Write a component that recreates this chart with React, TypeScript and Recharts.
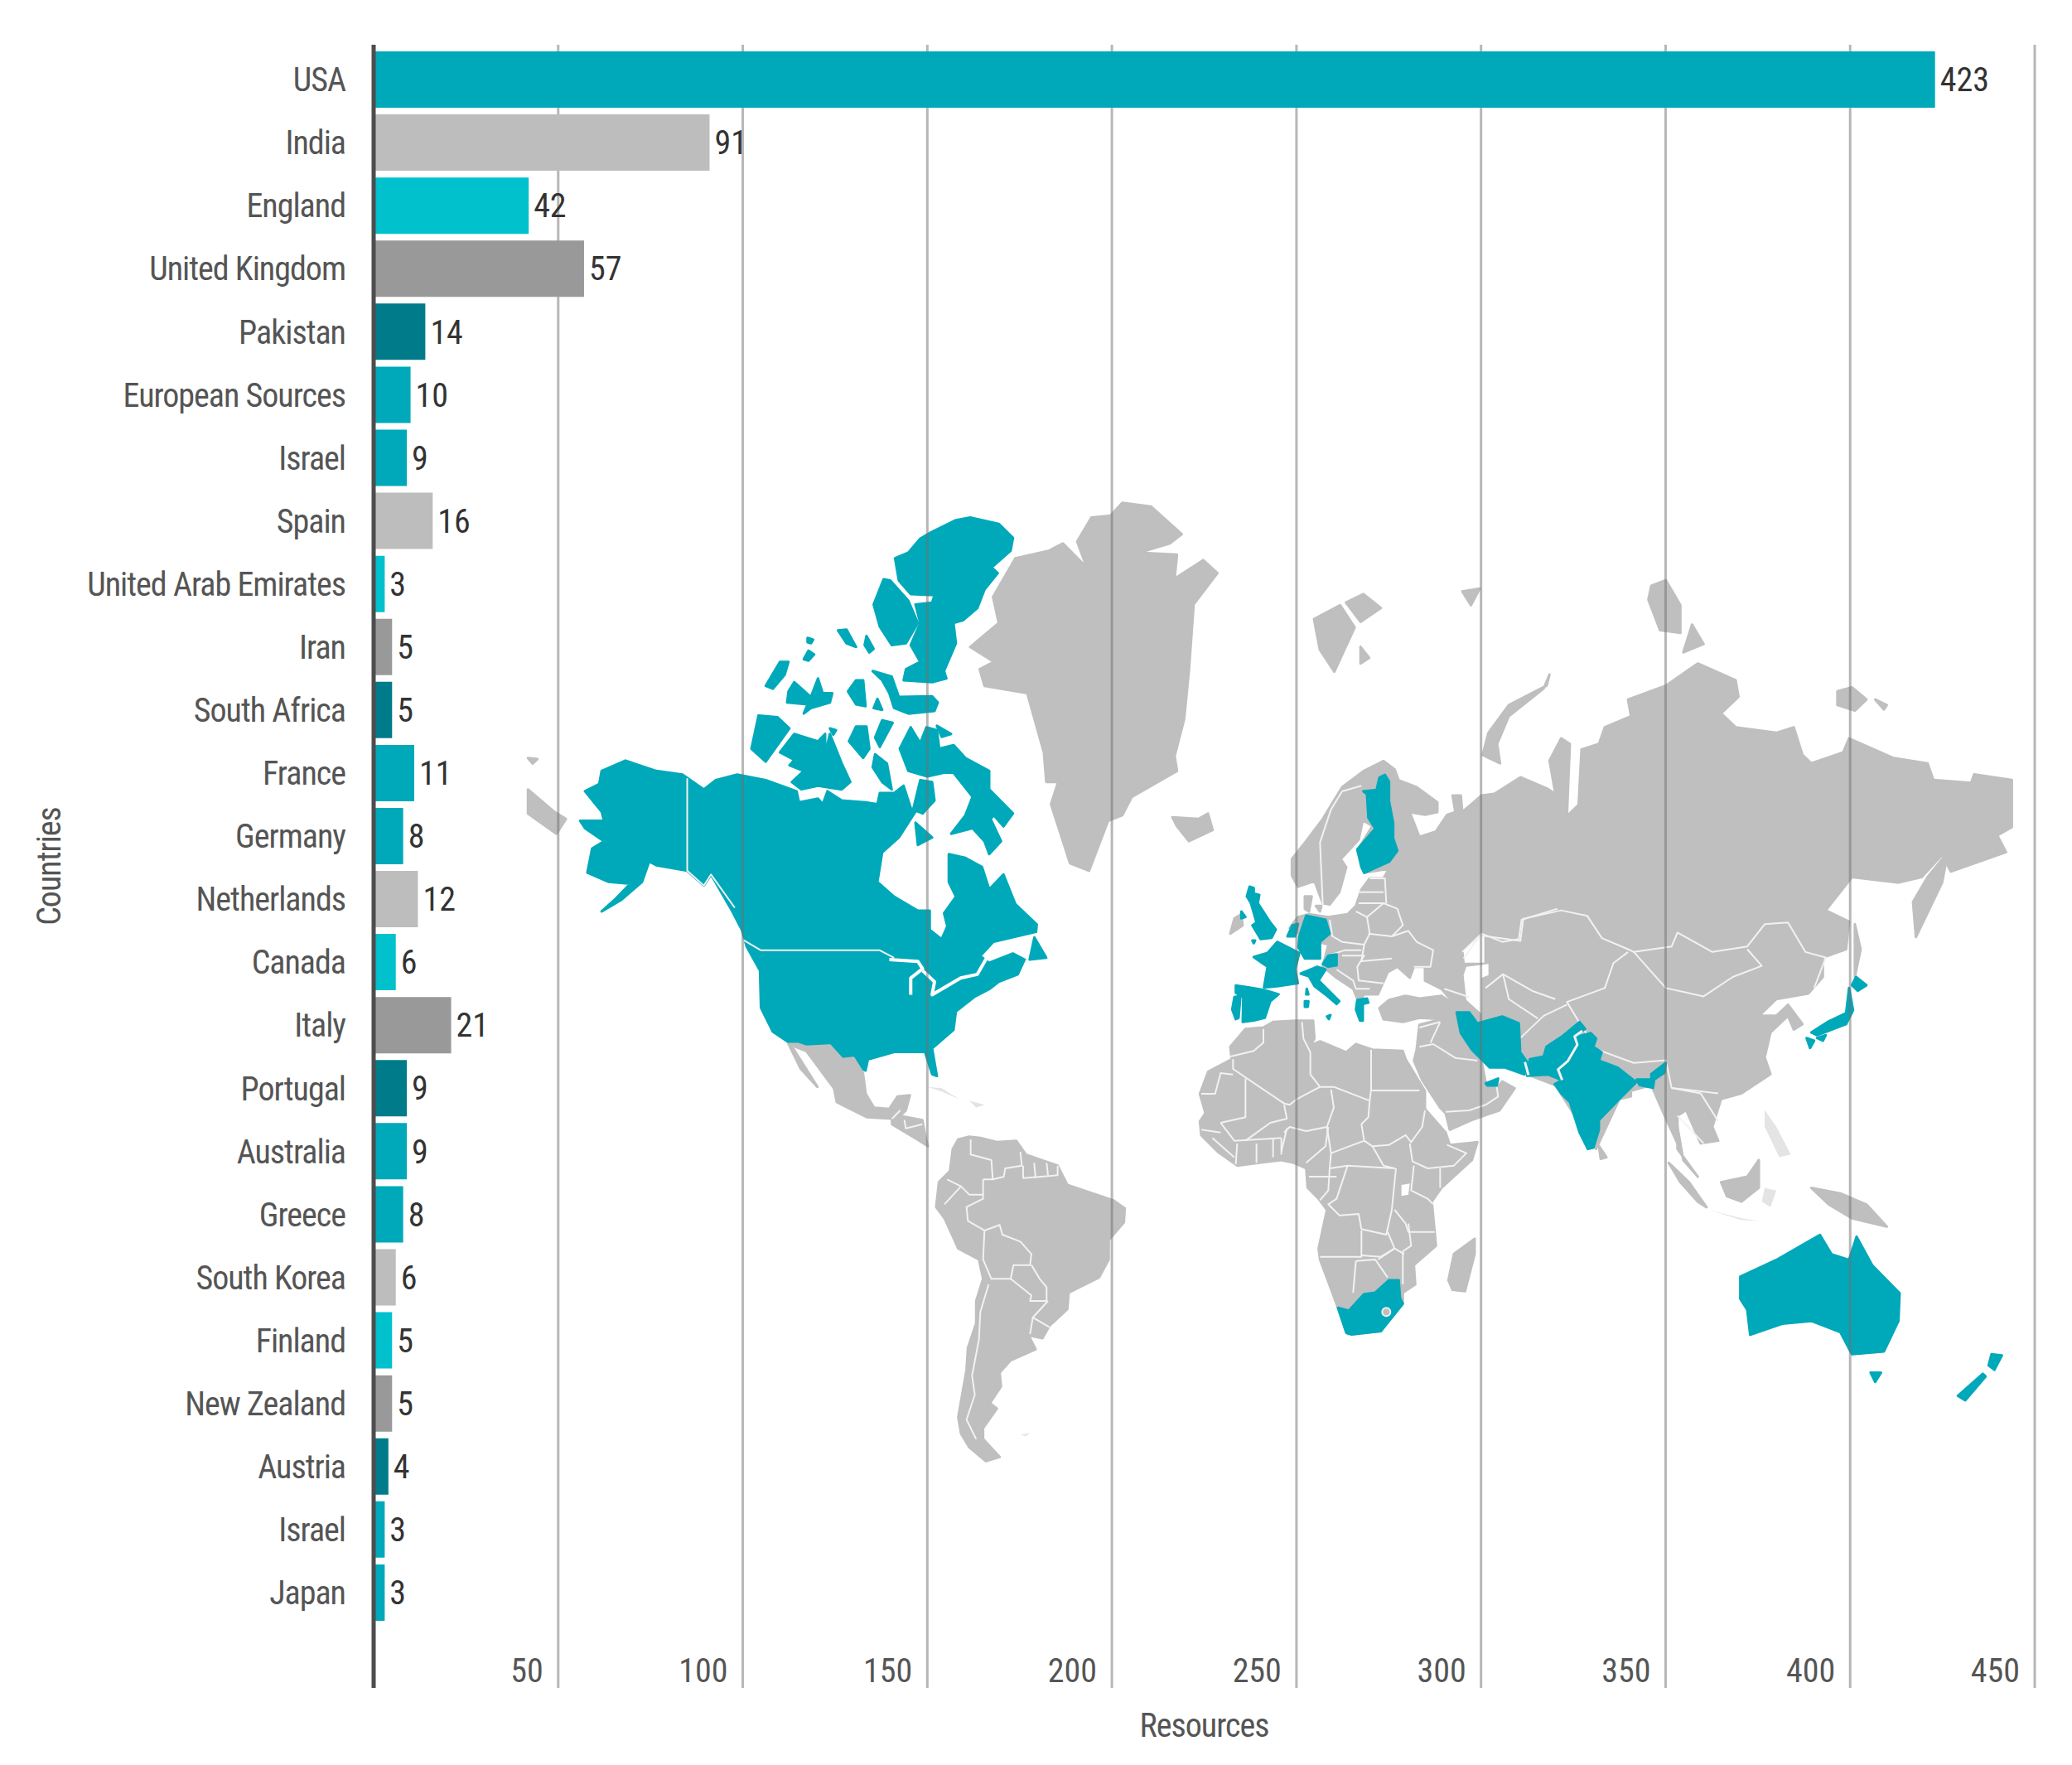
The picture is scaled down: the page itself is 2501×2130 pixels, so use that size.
import React from 'react';
import { BarChart, Bar, Cell, CartesianGrid, LabelList, XAxis, YAxis } from 'recharts';

const countries = ['USA', 'India', 'England', 'United Kingdom', 'Pakistan', 'European Sources', 'Israel', 'Spain', 'United Arab Emirates', 'Iran', 'South Africa', 'France', 'Germany', 'Netherlands', 'Canada', 'Italy', 'Portugal', 'Australia', 'Greece', 'South Korea', 'Finland', 'New Zealand', 'Austria', 'Israel', 'Japan'];
const resources = [423, 91, 42, 57, 14, 10, 9, 16, 3, 5, 5, 11, 8, 12, 6, 21, 9, 9, 8, 6, 5, 5, 4, 3, 3];
const barColors = ['#00a9b9', '#bdbdbd', '#00c1cc', '#999999', '#007b8a', '#00a9b9'];
const xTicks = [50, 100, 150, 200, 250, 300, 350, 400, 450];

const FONT = '"Liberation Sans Narrow", "Roboto Condensed", "Liberation Sans", sans-serif';
const GRAY = '#bfbfbf';
const TEAL = '#00a9b9';
const FAINT = '#e4e4e4';

// map outlines, traced by eye, each group in its own local coordinates
const northAmericaGray = [
  'M1215 55 L1255 50 L1280 15 L1340 25 L1405 100 L1380 125 L1315 150 L1395 155 L1390 220 L1450 170 L1480 205 L1430 290 L1420 470 L1410 600 L1390 700 L1395 740 L1300 810 L1280 860 L1250 875 L1210 1010 L1170 990 L1130 830 L1145 770 L1120 770 L1115 690 L1080 530 L990 510 L980 465 L1010 445 L960 405 L1020 340 L1008 270 L1055 165 L1125 145 L1155 125 L1205 190 L1185 120 Z',
  'M1385 865 L1440 870 L1460 855 L1470 900 L1420 930 L1395 890 Z',
  'M30 790 L85 850 L110 870 L90 910 L30 855 Z',
  'M30 705 L50 708 L40 720 Z',
];
const northAmericaTeal = [
  'M878 95 L930 62 L960 55 L1020 72 L1050 110 L1045 145 L1005 190 L1018 205 L990 250 L975 300 L945 333 L925 340 L930 395 L905 470 L910 490 L880 500 L820 495 L825 465 L855 445 L835 400 L855 340 L845 290 L880 285 L885 265 L835 262 L810 225 L802 165 L830 150 L855 112 Z',
  'M778 222 L792 225 L830 280 L850 340 L825 395 L795 400 L770 350 L757 290 Z',
  'M682 360 L700 358 L720 405 L700 395 Z',
  'M742 375 L757 410 L748 420 L738 400 Z',
  'M618 380 L630 385 L625 395 L618 392 Z',
  'M620 415 L632 425 L620 442 L610 438 Z',
  'M560 445 L578 445 L570 480 L545 518 L530 510 Z',
  'M590 500 L625 540 L640 490 L650 530 L670 530 L665 555 L625 570 L610 585 L618 560 L575 555 L578 525 Z',
  'M720 495 L735 495 L740 565 L720 560 L703 525 Z',
  'M765 545 L775 575 L757 570 Z',
  'M755 470 L795 485 L810 540 L880 538 L892 555 L885 578 L830 585 L800 570 L790 530 L775 495 Z',
  'M515 590 L555 595 L580 625 L530 715 L500 680 Z',
  'M590 640 L640 660 L655 640 L655 695 L665 640 L690 720 L708 770 L690 790 L640 780 L605 790 L585 770 L610 740 L580 725 L590 710 L560 690 Z',
  'M665 625 L678 630 L672 642 Z',
  'M720 620 L742 620 L748 680 L735 705 L705 660 Z',
  'M775 603 L797 610 L770 675 L760 650 Z',
  'M835 622 L855 665 L868 622 L890 630 L895 680 L925 670 L950 705 L1000 740 L1000 790 L1050 855 L1030 890 L1010 860 L1003 870 L1025 930 L1000 965 L990 930 L965 895 L920 910 L950 860 L965 810 L925 745 L905 745 L870 755 L830 740 L812 680 Z',
  'M890 618 L920 640 L900 648 Z',
  'M760 695 L785 720 L795 790 L775 770 L755 730 Z',
  'M855 765 L880 770 L885 820 L860 855 L840 845 Z',
  'M845 880 L880 920 L850 940 Z',
  'M150 795 L180 775 L185 740 L235 712 L300 740 L355 750 L400 790 L425 765 L470 750 L530 765 L595 795 L600 825 L640 815 L650 830 L660 795 L690 820 L740 825 L765 830 L770 800 L800 800 L820 780 L835 840 L845 850 L810 920 L775 960 L765 1040 L800 1080 L850 1118 L875 1118 L875 1170 L900 1195 L912 1160 L905 1125 L930 1080 L915 1040 L915 965 L950 975 L985 1000 L1000 1060 L1030 1020 L1055 1100 L1100 1155 L1098 1185 L1060 1290 L1020 1310 L1000 1330 L970 1350 L930 1390 L925 1440 L880 1490 L890 1565 L880 1560 L865 1500 L800 1500 L745 1520 L740 1550 L700 1530 L660 1480 L620 1480 L580 1475 L545 1445 L520 1380 L518 1280 L490 1215 L480 1170 L460 1120 L415 1020 L400 1050 L365 1010 L300 995 L285 985 L270 1040 L225 1090 L185 1120 L215 1085 L245 1045 L200 1040 L155 1015 L165 950 L190 930 L150 895 L140 875 L190 875 L185 850 Z',
];
const northAmericaWater = ['M1110 1175 L1010 1205 L985 1240 L1000 1255 L1050 1230 L1080 1250 L1065 1290 L1110 1285 Z'];
const greatLakes = [
  'M790 1250 L850 1255 L860 1275 L835 1300 L835 1345',
  'M860 1280 L885 1310 L880 1345 L940 1300 L975 1290 L995 1245',
];
const newfoundland = ['M1095 1190 L1120 1245 L1085 1250 Z'];
const northAmericaBorders = ['M365 760 L365 1010 L400 1050 L415 1020 L465 1110', 'M480 1195 L520 1225 L770 1225 L800 1245'];

const southAmericaGray = [
  'M65 30 L100 30 L130 40 L215 35 L260 85 L300 80 L335 135 L345 210 L375 260 L430 265 L460 220 L505 215 L490 270 L470 290 L550 305 L560 360 L570 400 L540 380 L440 320 L440 300 L350 295 L240 240 L230 190 L130 55 Z',
  'M68 35 L85 50 L170 185 L110 120 Z',
  'M680 375 L720 365 L760 370 L820 385 L890 380 L925 430 L1040 470 L1075 540 L1240 595 L1283 625 L1280 675 L1225 740 L1225 810 L1190 875 L1080 930 L1075 990 L1010 1050 L985 1095 L935 1085 L960 1135 L870 1175 L830 1220 L835 1270 L795 1330 L820 1350 L770 1420 L770 1460 L830 1525 L780 1540 L720 1490 L690 1440 L680 1380 L710 1210 L715 1130 L745 1040 L745 960 L770 880 L755 810 L680 770 L630 660 L600 620 L610 530 L650 490 L660 410 Z',
];
const caribbean = [
  'M570 185 L620 190 L685 230 L620 202 Z',
  'M720 235 L775 250 L745 260 Z',
  'M905 1445 L940 1438 L925 1450 Z',
];
const southAmericaBorders = [
  'M790 900 L760 1000 L755 1100 L730 1230 L740 1300 L710 1390 L745 1460',
  'M775 705 L770 810 L800 880 L870 880 L880 830 L940 830 L945 790 L905 745 L840 720 L830 685 L775 705',
  'M775 705 L715 670 L710 620 L770 590 L770 520',
  'M640 520 L690 545 L630 610',
  'M690 545 L720 575 L770 575',
  'M725 375 L725 430 L800 450 L805 520 L770 520',
  'M805 520 L845 510 L850 480 L910 470 L905 420',
  'M915 470 L915 515 L1040 505 L1040 470',
  'M960 515 L955 460',
  'M1005 505 L1000 460',
  'M870 880 L945 940 L940 960 L1000 960 L1000 910 L975 880 L945 830',
  'M1005 960 L950 1020 L940 1080',
  'M950 1020 L1010 1055',
  'M440 300 L470 270',
  'M485 305 L490 335 L550 320',
];

const europeGray = [
  'M238 410 L290 345 L350 265 L420 150 L500 90 L570 55 L610 85 L625 125 L690 150 L765 205 L765 240 L720 250 L665 240 L700 330 L760 310 L800 250 L830 240 L820 180 L850 180 L855 240 L925 180 L1000 170 L1065 120 L1160 180 L1200 190 L1200 590 L1060 640 L1060 700 L1000 710 L925 680 L855 740 L860 790 L950 790 L950 830 L925 830 L925 980 L860 950 L830 940 L780 880 L720 850 L720 800 L680 800 L665 840 L620 800 L585 820 L550 900 L500 900 L480 930 L460 880 L400 840 L350 800 L370 720 L300 700 L230 660 L260 620 L300 610 L370 620 L440 610 L470 580 L490 520 L520 480 L570 480 L590 445 L500 460 L475 380 L530 290 L495 270 L480 340 L415 410 L435 440 L410 530 L375 575 L350 570 L320 490 L260 510 L238 470 Z',
  'M285 545 L310 545 L300 600 L285 590 Z',
  'M325 580 L345 580 L340 600 Z',
  'M555 950 L590 920 L650 905 L700 915 L780 905 L830 940 L860 960 L830 970 L790 990 L700 985 L640 1000 L570 990 Z',
  'M30 625 L55 610 L60 650 L15 680 Z',
];
const europeTeal = [
  'M575 105 L590 130 L590 200 L605 280 L605 335 L620 380 L590 420 L500 460 L490 440 L475 375 L540 300 L515 260 L510 175 L497 165 L545 160 L555 115 Z',
  'M85 510 L100 515 L100 535 L120 540 L115 570 L160 640 L180 665 L165 695 L125 700 L95 650 L110 640 L90 570 L75 545 Z',
  'M55 600 L70 620 L55 625 Z',
  'M95 705 L105 705 L100 715 Z',
  'M240 650 L260 645 L250 690 L222 690 Z',
  'M290 615 L360 630 L375 680 L340 710 L340 770 L285 770 L262 730 L265 690 Z',
  'M185 710 L265 750 L250 810 L260 860 L190 870 L137 875 L150 800 L100 765 L150 750 Z',
  'M35 868 L85 875 L140 885 L190 900 L160 925 L140 985 L100 995 L60 1000 L62 910 L35 895 Z',
  'M30 910 L52 905 L45 985 L35 990 L22 955 Z',
  'M270 825 L330 800 L360 810 L335 850 L410 925 L400 935 L365 905 L320 870 L300 835 Z',
  'M285 925 L298 925 L296 945 L285 945 Z',
  'M292 880 L298 900 L290 900 Z',
  'M365 980 L378 975 L372 990 Z',
  'M350 790 L370 760 L400 755 L400 795 L370 800 Z',
  'M475 920 L510 915 L515 930 L495 935 L495 995 L485 995 L470 955 Z',
];
const europeBorders = [
  'M350 575 L340 350 L380 230 L420 165 L490 145',
  'M375 630 L385 690 L420 710 L500 720 L520 680 L510 620 L470 600',
  'M515 680 L600 690 L660 670 L690 710 L750 740 L740 800 L680 800',
  'M500 720 L490 780 L600 770',
  'M510 620 L570 570 L620 590 L640 650 L600 690',
  'M480 570 L570 570',
  'M520 480 L575 480 L580 570',
  'M480 530 L570 530',
  'M420 760 L500 760 L475 800 L480 850 L570 860',
  'M370 760 L430 740 L490 740',
  'M400 810 L460 850 L470 880 L520 880',
  'M790 880 L880 910',
  'M860 770 L925 680 L1000 710 L1060 700 L1070 630 L1200 590',
];
const caspian = 'M870 800 L950 790 L950 830 L925 840 L925 970 L870 920 L860 830 Z';

const asiaGray = [
  'M620 430 L665 450 L680 460 L670 400 L690 360 L705 370 L700 500 L720 480 L725 380 L755 370 L765 340 L810 320 L805 290 L870 265 L925 225 L990 255 L995 285 L965 315 L990 340 L1060 350 L1090 340 L1105 390 L1120 405 L1175 385 L1185 360 L1260 395 L1320 405 L1330 435 L1395 440 L1400 425 L1465 435 L1465 520 L1440 535 L1455 565 L1360 600 L1345 570 L1310 610 L1270 620 L1190 610 L1145 670 L1185 690 L1180 740 L1140 755 L1140 790 L1115 820 L1060 830 L1030 860 L1060 860 L1080 840 L1105 875 L1090 885 L1080 860 L1050 890 L1040 935 L1050 965 L1000 1000 L965 1010 L950 1060 L960 1085 L930 1090 L905 1030 L890 1040 L890 1090 L870 1045 L845 985 L810 995 L810 1005 L790 1010 L750 1100 L680 985 L630 965 L620 900 L505 850 L560 770 L560 470 Z',
  'M670 245 L665 265 L600 300 L565 350 L555 390 L585 405 L580 370 L600 320 L660 270 Z',
  'M265 145 L310 120 L335 160 L300 240 L275 200 Z',
  'M320 115 L350 100 L380 125 L345 150 Z',
  'M345 195 L360 215 L345 225 Z',
  'M520 95 L550 90 L535 120 Z',
  'M845 85 L870 75 L895 120 L895 170 L860 165 L840 110 Z',
  'M915 155 L935 190 L900 205 Z',
  'M1165 275 L1190 268 L1215 290 L1195 310 L1165 300 Z',
  'M1230 290 L1250 300 L1245 308 Z',
  'M1195 695 L1205 740 L1195 790 L1195 720 Z',
  'M1355 565 L1345 620 L1300 718 L1295 655 L1320 610 Z',
  'M755 1095 L768 1115 L758 1118 Z',
  'M875 1125 L910 1160 L940 1205 L925 1195 L895 1160 Z',
  'M965 1160 L1010 1150 L1030 1120 L1030 1170 L1000 1195 L975 1185 Z',
  'M1120 1170 L1170 1180 L1215 1200 L1250 1240 L1190 1225 L1150 1200 Z',
  'M890 1060 L900 1120 L925 1150 L890 1100 Z',
];
const asiaFaint = [
  'M945 1210 L1000 1225 L1030 1230 L1000 1228 Z',
  'M1040 1170 L1060 1175 L1050 1205 L1035 1195 Z',
  'M1040 1030 L1060 1060 L1085 1110 L1065 1115 L1040 1060 Z',
];
const asiaTeal = [
  'M845 965 L870 945 L868 962 L850 975 L848 990 L825 985 L820 975 L845 975 Z',
  'M1197 790 L1215 805 L1200 815 L1190 805 Z',
  'M1185 810 L1192 850 L1180 875 L1130 895 L1120 890 L1150 870 L1180 855 Z',
  'M1112 900 L1125 905 L1118 918 Z',
  'M1130 900 L1145 895 L1140 905 Z',
  'M998 1330 L1060 1300 L1110 1270 L1135 1255 L1155 1290 L1185 1300 L1198 1258 L1225 1310 L1272 1360 L1270 1410 L1245 1465 L1190 1470 L1170 1430 L1120 1410 L1070 1415 L1015 1435 L1010 1390 L998 1370 Z',
  'M1222 1503 L1240 1503 L1230 1520 Z',
  'M1430 1470 L1448 1472 L1435 1498 L1425 1490 Z',
  'M1415 1505 L1420 1510 L1385 1553 L1372 1545 Z',
];
const asiaBorders = [
  'M520 745 L550 715 L620 725 L625 685 L690 670 L735 680 L760 720 L805 740 L815 745 L880 735 L890 710 L950 745 L1010 735 L1040 695 L1080 692 L1110 745 L1145 755 L1125 810',
  'M815 745 L870 810 L935 825 L985 790 L1035 770 L1010 740',
  'M805 745 L780 765 L765 810 L700 835 L720 870 L750 920 L815 945 L870 940 L880 990 L960 1000',
  'M560 810 L590 785 L640 815 L680 830',
  'M590 785 L600 830 L650 865',
  'M620 900 L660 860 L700 840',
  'M880 990 L930 1000 L960 1050',
  'M890 1040 L935 1090',
];

const africaGray = [
  'M165 130 L220 65 L285 60 L320 40 L400 35 L465 35 L470 100 L455 125 L490 110 L585 150 L620 120 L680 140 L790 145 L800 175 L870 290 L870 355 L945 440 L960 485 L1060 475 L1040 540 L930 640 L895 690 L910 850 L830 920 L835 990 L790 1020 L790 1060 L710 1160 L590 1170 L555 1075 L490 900 L485 860 L515 720 L485 680 L445 640 L440 570 L395 550 L350 540 L190 560 L120 510 L60 450 L55 400 L75 370 L55 300 L85 220 L170 175 Z',
  'M850 50 L930 30 L980 10 L1000 80 L1060 170 L1075 180 L1090 260 L1130 280 L1150 255 L1195 280 L1140 360 L1095 375 L1040 395 L960 430 L945 370 L925 350 L860 250 L830 180 L840 140 Z',
  'M1050 825 L1050 880 L1015 1015 L970 1010 L955 975 L975 880 Z',
];
const africaTeal = [
  'M555 1075 L595 1085 L650 1025 L690 1020 L740 975 L775 975 L780 1040 L790 1060 L710 1160 L605 1172 L585 1165 Z',
  'M985 5 L1030 5 L1060 45 L1150 20 L1210 45 L1215 150 L1240 185 L1230 230 L1160 205 L1105 205 L1070 170 L1040 140 L1000 80 Z',
  'M1430 40 L1450 65 L1410 90 L1420 120 L1385 180 L1350 210 L1365 250 L1315 230 L1240 235 L1250 175 L1300 165 L1310 130 L1370 90 Z',
  'M1470 80 L1490 100 L1480 130 L1510 150 L1500 180 L1568 205 L1635 258 L1575 318 L1500 395 L1500 430 L1480 495 L1460 500 L1430 440 L1395 330 L1365 300 L1340 265 L1368 250 L1355 210 L1425 120 L1415 95 Z',
  'M1090 262 L1135 245 L1130 270 L1095 270 Z',
];
const indusBorders = ['M1440 72 L1412 92 L1422 122 L1387 182 L1352 212 L1367 250', 'M1232 185 L1245 232'];
const africaWater = ['M785 630 L815 625 L810 665 L785 670 Z'];
const africaBorders = [
  'M165 165 L250 145 L285 115 L285 65',
  'M175 175 L175 210 L360 335 L380 340 L405 320 L490 275 L455 230 L455 150 L430 100 L425 40',
  'M675 140 L675 285 L670 325 L540 275 L490 275',
  'M675 288 L850 288',
  'M175 230 L130 225 L110 300 L60 300',
  'M220 245 L220 385 L130 405',
  'M360 340 L370 390 L310 405 L220 470',
  'M530 285 L540 350 L515 420 L440 435 L380 420 L360 440',
  'M670 325 L665 385 L640 410 L650 470 L530 515 L515 420',
  'M650 470 L680 490 L740 485 L800 450 L820 475 L860 420 L870 360',
  'M815 480 L825 545 L880 570 L975 560 L1020 515 L950 485',
  'M925 570 L925 640',
  'M530 515 L525 570 L590 560 L760 570 L720 560 L680 490',
  'M350 510 L370 425',
  'M520 420 L510 490 L440 550',
  'M260 480 L260 550',
  'M320 460 L320 530',
  'M350 460 L350 520',
  'M190 480 L185 555',
  'M130 405 L180 470 L350 460',
  'M60 430 L130 440',
  'M100 460 L180 530',
  'M590 560 L550 680 L520 700 L560 740 L630 735 L640 790 L730 810 L750 720 L760 620 L765 570',
  'M525 570 L520 650 L490 685',
  'M450 600 L550 600',
  'M830 560 L820 650 L880 680 L900 700',
  'M760 720 L800 770 L810 800 L905 800',
  'M640 795 L640 890 L490 890',
  'M640 885 L710 890 L760 860 L735 800',
  'M620 905 L610 1020',
  'M620 905 L690 900 L735 965',
  'M810 770 L820 850 L790 870 L790 990',
  'M700 900 L760 860 L795 880',
  'M945 365 L1030 360 L1090 340',
  'M1090 340 L1135 310 L1130 275',
  'M850 130 L900 120 L980 170 L1060 180',
  'M925 40 L890 115',
  'M850 60 L925 40',
];

const chartData = countries.map((country, i) => ({ country, value: resources[i] }));

function Shapes({ items, fill, grow = 3 }: { items: string[]; fill: string; grow?: number }) {
  return (
    <>
      {items.map((d, i) => (
        <path key={i} d={d} fill={fill} stroke={fill} strokeWidth={grow} strokeLinejoin="round" vectorEffect="non-scaling-stroke" />
      ))}
    </>
  );
}

function Lines({ items, width = 2, color = '#f2f2f2' }: { items: string[]; width?: number; color?: string }) {
  return (
    <>
      {items.map((d, i) => (
        <path key={i} d={d} fill="none" stroke={color} strokeWidth={width} strokeLinejoin="round" vectorEffect="non-scaling-stroke" />
      ))}
    </>
  );
}

function WorldMap() {
  return (
    <svg width={2501} height={2130} style={{ position: 'absolute', left: 0, top: 0 }}>
      <g transform="translate(620 600) scale(0.574 0.4464)">
        <Shapes items={northAmericaGray} fill={GRAY} />
        <Shapes items={northAmericaTeal} fill={TEAL} />
        <Shapes items={northAmericaWater} fill="#fff" grow={0} />
        <Lines items={greatLakes} width={4} color="#fff" />
        <Shapes items={newfoundland} fill={TEAL} />
        <Lines items={northAmericaBorders} />
      </g>
      <g transform="translate(930 1250) scale(0.3333)">
        <Shapes items={southAmericaGray} fill={GRAY} />
        <Shapes items={caribbean} fill={FAINT} grow={0} />
        <Lines items={southAmericaBorders} />
      </g>
      <g transform="translate(1400 650) scale(0.702 0.6696)">
        <Shapes items={asiaGray} fill={GRAY} />
        <Shapes items={asiaFaint} fill={FAINT} grow={0} />
      </g>
      <g transform="translate(1480 900) scale(0.3333)">
        <Shapes items={europeGray} fill={GRAY} />
        <path d={caspian} fill="#fff" />
        <Lines items={europeBorders} />
      </g>
      <g transform="translate(1430 1220) scale(0.3333)">
        <Shapes items={africaGray} fill={GRAY} />
        <Shapes items={africaWater} fill="#fff" grow={0} />
        <Lines items={africaBorders} />
      </g>
      <g transform="translate(1400 650) scale(0.702 0.6696)">
        <Lines items={asiaBorders} />
        <Shapes items={asiaTeal} fill={TEAL} />
      </g>
      <g transform="translate(1430 1220) scale(0.3333)">
        <Shapes items={africaTeal} fill={TEAL} />
        <Lines items={indusBorders} width={3} />
        <circle cx={730} cy={1090} r={15} fill={GRAY} stroke="#f2f2f2" strokeWidth={6} />
      </g>
      <g transform="translate(1480 900) scale(0.3333)">
        <Shapes items={europeTeal} fill={TEAL} />
      </g>
    </svg>
  );
}

const XTick = ({ x, y, payload }: any) => (
  <text x={x - 18} y={y - 15} textAnchor="end" fontFamily={FONT} fontSize={40} fill="#555">
    {payload.value}
  </text>
);

export default function App() {
  return (
    <div style={{ position: 'absolute', left: 0, top: 0, width: 2501, height: 2130, background: '#fff' }}>
      <WorldMap />
      <div style={{ position: 'absolute', left: 0, top: 0 }}>
        <BarChart
          width={2501}
          height={2130}
          layout="vertical"
          data={chartData}
          margin={{ top: 54, right: 45, bottom: 0, left: 51 }}
        >
          <CartesianGrid horizontal={false} stroke="#6f6f6f" strokeOpacity={0.5} strokeWidth={3} />
          <XAxis
            type="number"
            domain={[0, 450]}
            ticks={xTicks}
            axisLine={false}
            tickLine={false}
            tick={<XTick />}
            height={93}
            label={{ value: 'Resources', position: 'insideBottom', offset: 34, fontFamily: FONT, fontSize: 40, fill: '#555', letterSpacing: -1 }}
          />
          <YAxis
            type="category"
            dataKey="country"
            width={400}
            interval={0}
            padding={{ top: 4, bottom: 77 }}
            tickLine={false}
            tickMargin={28}
            axisLine={{ stroke: '#4d4d4d', strokeWidth: 5 }}
            tick={{ fontFamily: FONT, fontSize: 40, fill: '#555', letterSpacing: -1 }}
            label={{ value: 'Countries', angle: -90, position: 'insideLeft', offset: 8, textAnchor: 'middle', fontFamily: FONT, fontSize: 40, fill: '#555', letterSpacing: -1 }}
          />
          <Bar dataKey="value" barSize={68} isAnimationActive={false}>
            {chartData.map((entry, index) => (
              <Cell key={`cell-${index}`} fill={barColors[index % barColors.length]} />
            ))}
            <LabelList dataKey="value" position="right" offset={6} fontFamily={FONT} fontSize={40} fill="#333" />
          </Bar>
        </BarChart>
      </div>
    </div>
  );
}
